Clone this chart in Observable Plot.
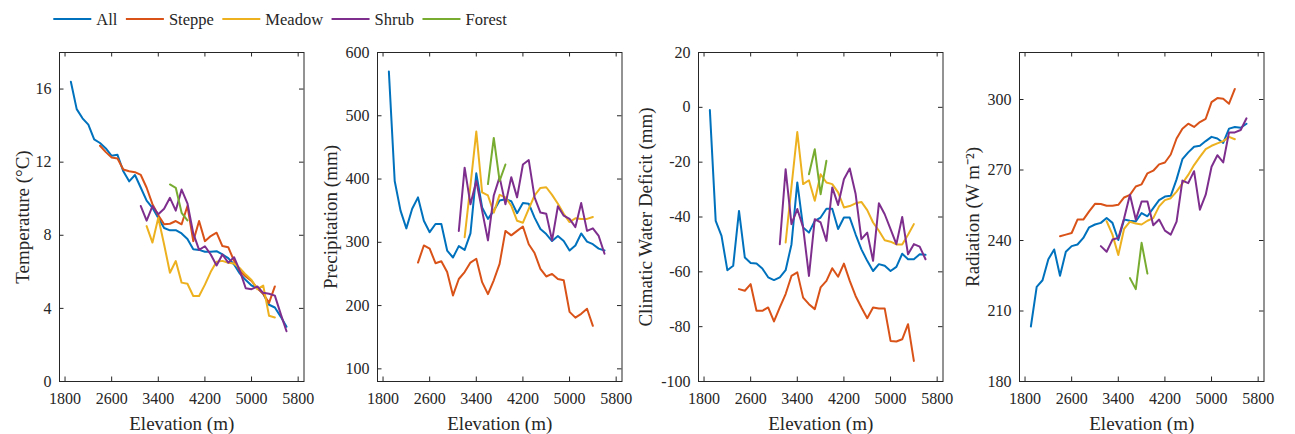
<!DOCTYPE html>
<html>
<head>
<meta charset="utf-8">
<script src="https://cdn.jsdelivr.net/npm/d3@7"></script>
<script src="https://cdn.jsdelivr.net/npm/@observablehq/plot@0.6"></script>
<style>
  body { margin: 0; background: #fff; }
  #wrap { position: relative; width: 1295px; height: 434px; overflow: hidden; background: #fff;
          font-family: "Liberation Serif", "Times New Roman", serif; }
  #legend { position: absolute; left: 0; top: 0; width: 1295px; height: 40px; }
  .panel { position: absolute; top: 40px; }
</style>
</head>
<body>
<div id="wrap"><div id="legend"></div></div>
<script>
// ---------- data ----------
const seriesNames = ["All", "Steppe", "Meadow", "Shrub", "Forest"];
const seriesColors = ["#0072BD", "#D95319", "#EDB120", "#7E2F8E", "#77AC30"];
const elevation = [1900, 2000, 2100, 2200, 2300, 2400, 2500, 2600, 2700, 2800, 2900, 3000, 3100, 3200,
  3300, 3400, 3500, 3600, 3700, 3800, 3900, 4000, 4100, 4200, 4300, 4400, 4500, 4600, 4700, 4800, 4900,
  5000, 5100, 5200, 5300, 5400, 5500, 5600];
const seriesStart = { All: 1900, Steppe: 2400, Meadow: 3200, Shrub: 3100, Forest: 3600 };
const xTicks = [1800, 2600, 3400, 4200, 5000, 5800];

// Temperature (°C)
const tempAll = [16.4, 14.9, 14.4, 14.05, 13.25, 13.05, 12.75, 12.35, 12.4, 11.5, 10.95, 11.3, 10.6, 9.9, 9.5,
  8.95, 8.4, 8.27, 8.28, 8.1, 7.8, 7.23, 7.2, 7.1, 7.1, 7.13, 6.95, 6.75, 6.4, 5.9, 5.55, 5.25, 5.13, 4.8,
  4.2, 4.05, 3.55, 3.0];
const tempSteppe = [12.9, 12.55, 12.25, 12.2, 11.6, 11.5, 11.45, 11.3, 10.6, 9.7, 9.1, 8.6, 8.63, 8.78, 8.6,
  9.6, 7.68, 8.78, 7.68, 7.96, 8.14, 7.41, 7.35, 6.6, 6.05, 5.75, 5.5, 5.1, 4.8, 4.3, 5.2];
const tempMeadow = [8.5, 7.6, 8.96, 7.5, 5.95, 6.59, 5.41, 5.35, 4.68, 4.68, 5.3, 6.0, 6.55, 6.6, 6.5, 6.45,
  6.2, 5.85, 5.55, 5.05, 5.25, 3.6, 3.5];
const tempShrub = [9.6, 8.8, 9.6, 9.15, 9.45, 10.05, 9.35, 10.5, 9.75, 8.1, 7.2, 7.4, 6.95, 6.35, 6.95, 6.5,
  6.8, 6.05, 5.1, 5.05, 5.2, 4.85, 4.8, 4.7, 3.7, 2.75];
const tempForest = [10.78, 10.6, 9.23, 8.81];
const tempTicks = [0, 4, 8, 12, 16];

// Precipitation (mm)
const precAll = [570, 397, 350, 322, 353, 371, 334, 316, 329, 329, 287, 276, 294, 288, 314, 409, 355, 337,
  350, 366, 368, 365, 346, 362, 361, 339, 321, 313, 302, 310, 302, 287, 295, 314, 301, 297, 290, 287];
const precSteppe = [268, 295, 290, 267, 270, 253, 216, 242, 253, 268, 274, 237, 218, 240, 266, 318, 311, 318,
  325, 297, 283, 258, 246, 250, 242, 240, 190, 181, 187, 195, 168];
const precMeadow = [308, 390, 475, 379, 374, 347, 375, 371, 358, 334, 331, 353, 374, 386, 387, 375, 361, 345,
  332, 338, 337, 337, 340];
const precShrub = [318, 418, 360, 397, 350, 303, 374, 403, 360, 403, 371, 423, 430, 371, 347, 345, 303, 357,
  342, 337, 324, 362, 318, 322, 310, 282];
const precForest = [392, 465, 397, 423];
const precTicks = [100, 200, 300, 400, 500, 600];

// Climatic water deficit (mm)
const cwdAll = [-1, -41.4, -46.9, -59.4, -57.8, -37.8, -54.8, -56.8, -57, -58.8, -62, -63, -62, -59.4, -50,
  -27.4, -43.8, -45.7, -41.4, -40.2, -37, -37, -44.4, -40.2, -40.2, -46.3, -51.8, -56, -59.7, -57.2, -57.8,
  -59.7, -58.2, -53.4, -55.4, -55.4, -53.6, -53.8];
const cwdSteppe = [-66.3, -66.9, -64.5, -74.2, -74.2, -73, -78.1, -73, -68.1, -61.5, -60.2, -69.4, -71.8,
  -73.6, -65.7, -63.3, -58.7, -61.8, -57, -63.3, -68.8, -73, -76.9, -73, -73.4, -73.4, -85.2, -85.4, -84.6,
  -79.1, -92.5];
const cwdMeadow = [-49.3, -29, -9, -28, -26.6, -34.1, -24.4, -27.4, -28, -31, -36.5, -36, -35, -34.5, -37.5,
  -42, -45, -48.5, -49, -50, -50, -46.5, -42.6];
const cwdShrub = [-49.9, -22.6, -42.6, -37.1, -43.8, -61.5, -40.8, -42, -48.7, -29.2, -35.6, -26.2, -22.3,
  -31.5, -48.1, -45.7, -56, -35, -39, -44.4, -49.9, -40, -53.6, -49.9, -50.8, -55.4];
const cwdForest = [-24.4, -15.3, -31.7, -19.5];
const cwdTicks = [-100, -80, -60, -40, -20, 0, 20];

// Radiation (W m-2)
const radAll = [203.4, 220.3, 223.1, 232, 236.2, 225, 235.2, 237.6, 238.3, 241.1, 245.6, 246.8, 247.5, 249.6,
  247.5, 240.2, 248.9, 248.4, 248.1, 251.7, 250.3, 253.8, 257.2, 258.7, 259, 266, 274.6, 277.5, 279.9, 280.3,
  282.3, 284.1, 283.4, 281.5, 287.6, 288.3, 288, 289.7];
const radSteppe = [241.8, 242.5, 243.2, 248.9, 248.9, 252.4, 255.6, 255.5, 254.8, 254.8, 255.2, 258.3, 259.4,
  263, 263.9, 268.6, 269.7, 272.4, 273.2, 276.6, 283.4, 287.6, 289.7, 288.3, 290.4, 291.8, 298.9, 300.6, 300.3,
  298.2, 304.5];
const radMeadow = [248.2, 242.5, 233.8, 245, 248, 247.2, 246.8, 248.4, 249.5, 254.5, 257.2, 258, 260.8, 264.3,
  267.9, 272.1, 275.6, 278.9, 280.3, 281.3, 282.3, 284.1, 283.1];
const radShrub = [237.6, 235.2, 240.4, 241.1, 249.5, 259.5, 248.9, 256.6, 256.6, 246.5, 248.9, 244.2, 242.5,
  248, 265.5, 264.4, 269.5, 253.1, 259.5, 271.4, 276.3, 273.2, 286, 286, 287, 292];
const radForest = [224, 219.3, 239, 225.9];
const radTicks = [180, 210, 240, 270, 300];

const panels = [
  { ylabel: "Temperature (°C)", ydomain: [0, 18], yticks: tempTicks,
    values: { All: tempAll, Steppe: tempSteppe, Meadow: tempMeadow, Shrub: tempShrub, Forest: tempForest } },
  { ylabel: "Precipitation (mm)", ydomain: [80, 600], yticks: precTicks,
    values: { All: precAll, Steppe: precSteppe, Meadow: precMeadow, Shrub: precShrub, Forest: precForest } },
  { ylabel: "Climatic Water Deficit (mm)", ydomain: [-100, 20], yticks: cwdTicks,
    values: { All: cwdAll, Steppe: cwdSteppe, Meadow: cwdMeadow, Shrub: cwdShrub, Forest: cwdForest } },
  { ylabel: "Radiation (W m⁻²)", ydomain: [180, 320], yticks: radTicks,
    values: { All: radAll, Steppe: radSteppe, Meadow: radMeadow, Shrub: radShrub, Forest: radForest } }
];

// ---------- layout ----------
const FONT = '"Liberation Serif", "Times New Roman", serif';
const INK = "#262626";
const xDomain = [1705, 5900];
const boxLefts = [58.7, 376.7, 698.3, 1019];
const titleDx = [-37, -47, -53, -47];
const ML = 60, MR = 8, MT = 12, MB = 53;
const innerW = 244.5, innerH = 329;
const W = ML + innerW + MR, H = MT + innerH + MB;
const TL = 4.5;

const wrap = document.getElementById("wrap");

panels.forEach((p, pi) => {
  const rows = seriesNames.flatMap(name => {
    const vals = p.values[name];
    const i0 = elevation.indexOf(seriesStart[name]);
    return vals.map((v, k) => ({ series: name, elevation: elevation[i0 + k], value: v }));
  });
  const chart = Plot.plot({
    width: W, height: H,
    marginLeft: ML, marginRight: MR, marginTop: MT, marginBottom: MB,
    style: { fontFamily: FONT, fontSize: "16px", color: INK, background: "transparent", overflow: "visible" },
    x: { domain: xDomain, axis: null },
    y: { domain: p.ydomain, axis: null },
    color: { domain: seriesNames, range: seriesColors },
    marks: [
      Plot.line(rows, { x: "elevation", y: "value", z: "series", stroke: "series", strokeWidth: 2 }),
      Plot.frame({ stroke: INK, strokeWidth: 1 }),
      Plot.tickX(xTicks, { x: d => d, insetTop: innerH - TL, stroke: INK }),
      Plot.tickX(xTicks, { x: d => d, insetBottom: innerH - TL, stroke: INK }),
      Plot.tickY(p.yticks, { y: d => d, insetRight: innerW - TL, stroke: INK }),
      Plot.tickY(p.yticks, { y: d => d, insetLeft: innerW - TL, stroke: INK }),
      Plot.axisX({ ticks: xTicks, tickSize: 0, tickPadding: 11, tickFormat: d => String(d), label: null, fontSize: 16 }),
      Plot.axisY({ ticks: p.yticks, tickSize: 0, tickPadding: 8, tickFormat: d => String(d), label: null, fontSize: 16 }),
      Plot.text([p.ylabel], { text: d => d, frameAnchor: "left", textAnchor: "middle", lineAnchor: "middle",
        rotate: -90, dx: titleDx[pi], fontSize: 19, fill: INK }),
      Plot.text(["Elevation (m)"], { text: d => d, frameAnchor: "bottom", textAnchor: "middle", lineAnchor: "middle",
        dy: 42.6, fontSize: 19, fill: INK })
    ]
  });
  chart.classList.add("panel");
  chart.style.left = (boxLefts[pi] - ML) + "px";
  wrap.appendChild(chart);
});

// ---------- legend ----------
const leg = d3.select("#legend").append("svg").attr("width", 1295).attr("height", 40);
let lx = 53.3;
seriesNames.forEach((name, i) => {
  leg.append("line").attr("x1", lx).attr("x2", lx + 38).attr("y1", 19).attr("y2", 19)
    .attr("stroke", seriesColors[i]).attr("stroke-width", 2.2);
  const t = leg.append("text").attr("x", lx + 43).attr("y", 19).attr("dy", "0.34em")
    .style("font-family", FONT).style("font-size", "16.5px").attr("fill", INK).text(name);
  lx += 43 + t.node().getComputedTextLength() + 8.5;
});
</script>
</body>
</html>
